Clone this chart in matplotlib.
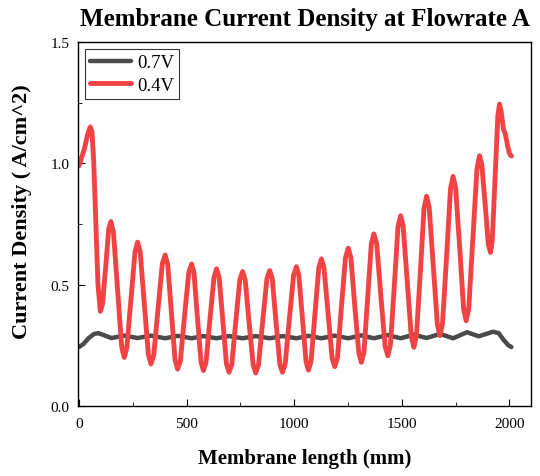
import matplotlib.pyplot as plt
from matplotlib.ticker import MultipleLocator

plt.rcParams['font.family'] = ['Liberation Serif', 'DejaVu Serif']

# 0.4V - membrane current density
x_04 = [0, 25, 40, 52, 60, 68, 78, 88, 99,
        109, 124, 138, 148, 160, 179, 198, 210,
        222, 241, 260, 272, 284, 303, 322, 334,
        347, 367, 387, 400, 412, 429, 446, 458,
        471, 490, 510, 523, 534, 550, 567, 578,
        590, 608, 627, 639, 651, 668, 685, 697,
        710, 728, 747, 760, 772, 790, 809, 821,
        834, 853, 873, 886, 898, 915, 933, 945,
        958, 977, 997, 1010, 1021, 1038, 1055, 1066,
        1078, 1096, 1114, 1126, 1138, 1157, 1176, 1188,
        1201, 1219, 1238, 1251, 1263, 1281, 1300, 1312,
        1324, 1341, 1358, 1370, 1383, 1402, 1422, 1435,
        1447, 1465, 1482, 1494, 1506, 1525, 1544, 1556,
        1568, 1586, 1603, 1615, 1627, 1646, 1665, 1677,
        1689, 1708, 1726, 1738, 1750, 1769, 1787, 1799,
        1811, 1830, 1849, 1861, 1871, 1887, 1902, 1912,
        1920, 1933, 1946, 1954, 1962, 1972, 1981, 1992, 2000, 2009]
y_04 = [0.99, 1.06, 1.12, 1.15, 1.13, 1.01, 0.75, 0.50, 0.39,
        0.42, 0.575, 0.73, 0.76, 0.715, 0.48, 0.245, 0.20,
        0.24, 0.44, 0.635, 0.675, 0.635, 0.424, 0.213, 0.173,
        0.209, 0.40, 0.586, 0.622, 0.584, 0.387, 0.19, 0.152,
        0.187, 0.37, 0.55, 0.585, 0.55, 0.365, 0.18, 0.146,
        0.18, 0.355, 0.53, 0.565, 0.53, 0.35, 0.173, 0.139,
        0.172, 0.346, 0.52, 0.554, 0.52, 0.345, 0.17, 0.136,
        0.17, 0.347, 0.524, 0.558, 0.524, 0.348, 0.172, 0.139,
        0.174, 0.356, 0.539, 0.574, 0.54, 0.361, 0.182, 0.148,
        0.185, 0.377, 0.569, 0.606, 0.57, 0.384, 0.197, 0.162,
        0.20, 0.406, 0.611, 0.65, 0.612, 0.415, 0.218, 0.18,
        0.222, 0.445, 0.667, 0.709, 0.669, 0.458, 0.247, 0.207,
        0.253, 0.496, 0.738, 0.784, 0.741, 0.513, 0.285, 0.242,
        0.292, 0.553, 0.814, 0.864, 0.818, 0.577, 0.336, 0.29,
        0.342, 0.618, 0.894, 0.946, 0.898, 0.649, 0.399, 0.351,
        0.405, 0.691, 0.977, 1.031, 0.999, 0.832, 0.665, 0.633,
        0.68, 0.94, 1.195, 1.244, 1.21, 1.14, 1.12, 1.07, 1.04, 1.03]

# 0.7V
x_07 = [0, 20, 45, 70, 90, 115, 150, 210, 272, 334, 400, 458, 523, 578,
        639, 697, 760, 821, 886, 945, 1010, 1066, 1126, 1188, 1251, 1312,
        1370, 1435, 1494, 1556, 1615, 1677, 1738, 1803, 1857, 1924, 1950,
        1975, 1995, 2009]
y_07 = [0.243, 0.255, 0.28, 0.297, 0.30, 0.292, 0.28, 0.29, 0.28, 0.29,
        0.279, 0.289, 0.279, 0.288, 0.279, 0.288, 0.279, 0.288, 0.279,
        0.288, 0.279, 0.289, 0.279, 0.29, 0.279, 0.291, 0.279, 0.292,
        0.279, 0.294, 0.28, 0.297, 0.279, 0.304, 0.287, 0.306, 0.30,
        0.27, 0.25, 0.243]

fig = plt.figure(figsize=(5.4, 4.77), dpi=100)
ax = fig.add_axes([0.1444, 0.1468, 0.8389, 0.7631])

ax.plot(x_07, y_07, color='#4a4a4a', lw=3.2, label='0.7V',
        solid_joinstyle='round', solid_capstyle='round')
ax.plot(x_04, y_04, color='#f24344', lw=3.5, label='0.4V',
        solid_joinstyle='round', solid_capstyle='round')

ax.set_xlim(-5, 2100)
ax.set_ylim(0, 1.5)
ax.xaxis.set_major_locator(MultipleLocator(500))
ax.xaxis.set_minor_locator(MultipleLocator(250))
ax.yaxis.set_major_locator(MultipleLocator(0.5))
ax.yaxis.set_minor_locator(MultipleLocator(0.25))
ax.tick_params(which='both', direction='in', labelsize=11)
ax.tick_params(which='major', length=5)
ax.tick_params(which='minor', length=3)
ax.tick_params(axis='x', pad=8)
ax.tick_params(axis='y', pad=6)
for s in ax.spines.values():
    s.set_linewidth(1.0)

ax.set_title('Membrane Current Density at Flowrate A', fontsize=18,
             fontweight='bold', pad=12)
ax.set_xlabel('Membrane length (mm)', fontsize=15, fontweight='bold', labelpad=13)
ax.set_ylabel('Current Density ( A/cm^2)', fontsize=16, fontweight='bold')
ax.yaxis.set_label_coords(-0.102, 0.537)

leg = ax.legend(loc='upper left', fontsize=13.5, handlelength=2.2,
                fancybox=False, edgecolor='black', borderaxespad=0.4,
                handletextpad=0.3, labelspacing=0.3, borderpad=0.25)
leg.get_frame().set_linewidth(0.8)

fig.savefig('out.png', dpi=100)
